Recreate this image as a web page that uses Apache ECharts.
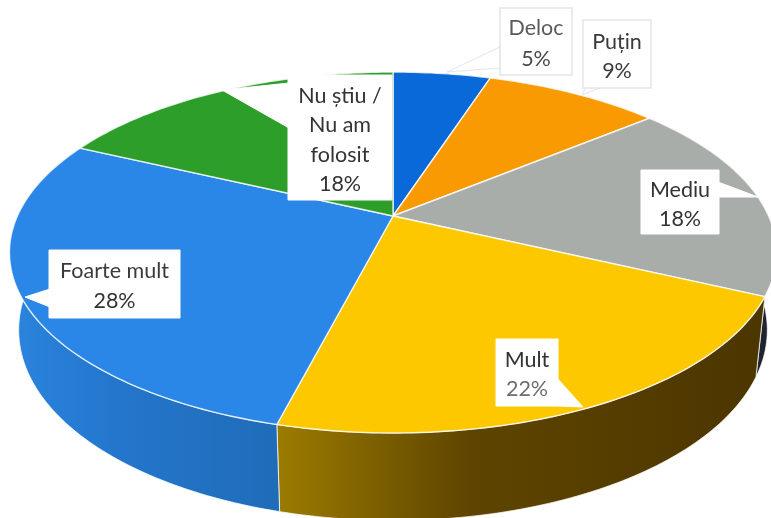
<!DOCTYPE html>
<html>
<head>
<meta charset="utf-8">
<style>
  html, body { margin: 0; padding: 0; background: #fff; }
  #chart { width: 771px; height: 518px; }
</style>
<script src="https://cdn.jsdelivr.net/npm/echarts@6/dist/echarts.min.js"></script>
</head>
<body>
<div id="chart"></div>
<script>
// values
const categories = ['Deloc', 'Puțin', 'Mediu', 'Mult', 'Foarte mult', 'Nu știu / Nu am folosit'];
const percents = [5, 9, 18, 22, 28, 18];
const labelLines = [['Deloc'], ['Puțin'], ['Mediu'], ['Mult'], ['Foarte mult'], ['Nu știu /', 'Nu am', 'folosit']];

const topColors = ['#0a69d8', '#f99a02', '#a9adaa', '#fec800', '#2a87e8', '#2d9e2a'];
const wallColors = [
  ['#0a4f9f', '#0a4f9f', '#0a4f9f'],
  ['#a86800', '#a86800', '#a86800'],
  ['#2c3448', '#20242f', '#20242f'],
  ['#9c7c00', '#5e4400', '#4c3600'],
  ['#2b84de', '#2476cc', '#1f6cb8'],
  ['#1f7020', '#1f7020', '#1f7020'],
];

// callout layout: box [x0, y0, x1, y1], pointer polygon, first text line y, line step
const callouts = [
  { box: [500, 8, 572, 75], ptr: [[447, 72], [500, 47], [500, 68]], y: 28, step: 31, border: '#e2e5e8', colors: ['#5a5a5a', '#4a4a4a'] },
  { box: [583, 20, 651, 88], ptr: [[582, 95], [586, 87], [602, 87]], y: 42, step: 29, border: '#e2e5e8', colors: ['#3a3a3a', '#3a3a3a'] },
  { box: [641, 170, 719, 234], ptr: [[758, 197], [718, 182], [718, 197]], y: 190, step: 29, colors: ['#333', '#333'] },
  { box: [496, 339, 558, 406], ptr: [[583, 407], [557, 378], [557, 406]], y: 360, step: 29, colors: ['#333', '#6e6e6e'] },
  { box: [49, 250, 180, 318], ptr: [[25, 297], [50, 289], [50, 307]], y: 271, step: 30, colors: ['#3a3a3a', '#333'] },
  { box: [288, 75, 392, 200], ptr: [[222, 90], [289, 83], [289, 128]], y: 96, step: 29.5, colors: ['#333', '#333', '#333', '#333'] },
];

// projective map from the pie's unit disc to the tilted picture
const apex = [393, 216];
const scaleX = 375.6, scaleY = 173.1, persp = 0.2023;
const wallShrink = 0.976;

function rimPoint(turn, bottom) {
  const a = turn * 2 * Math.PI;
  const u = Math.sin(a), v = Math.cos(a);
  const w = 1 + persp * v;
  const x = scaleX * u / w;
  const y = -scaleY * v / w;
  return bottom
    ? [apex[0] + x * wallShrink, apex[1] + y + 75 - 12.5 * v]
    : [apex[0] + x, apex[1] + y];
}

function sliceTurns(i) {
  const total = percents.reduce((s, p) => s + p, 0);
  const before = percents.slice(0, i).reduce((s, p) => s + p, 0);
  return [before / total, (before + percents[i]) / total];
}

function rimPoints(i, bottom) {
  const [from, to] = sliceTurns(i);
  const n = Math.ceil((to - from) * 360);
  const pts = [];
  for (let k = 0; k <= n; k++) pts.push(rimPoint(from + (to - from) * k / n, bottom));
  return pts;
}

function renderWall(params) {
  const i = params.dataIndex;
  const pts = rimPoints(i, false).concat(rimPoints(i, true).reverse());
  return {
    type: 'polygon',
    shape: { points: pts },
    style: {
      fill: { type: 'linear', x: 0, y: 0, x2: 1, y2: 0, colorStops: [
        { offset: 0, color: wallColors[i][0] },
        { offset: 0.4, color: wallColors[i][1] },
        { offset: 1, color: wallColors[i][2] },
      ] },
      stroke: 'rgba(255,255,255,0.75)',
      lineWidth: 1,
    },
  };
}

function renderTop(params) {
  const i = params.dataIndex;
  return {
    type: 'polygon',
    shape: { points: [apex].concat(rimPoints(i, false)) },
    style: { fill: topColors[i], stroke: 'rgba(255,255,255,0.8)', lineWidth: 1.4 },
  };
}

function renderCallout(params) {
  const i = params.dataIndex;
  const c = callouts[i];
  const [x0, y0, x1, y1] = c.box;
  const lines = labelLines[i].concat(percents[i] + '%');
  const children = [
    { type: 'polygon', shape: { points: c.ptr }, style: { fill: '#fff', stroke: c.border || '#fff', lineWidth: 1 } },
    { type: 'rect', shape: { x: x0, y: y0, width: x1 - x0, height: y1 - y0 }, style: { fill: '#fff', stroke: c.border || '#fff', lineWidth: c.border ? 1.5 : 1 } },
  ];
  lines.forEach((text, j) => {
    children.push({
      type: 'text',
      style: {
        text,
        x: (x0 + x1) / 2,
        y: c.y + j * c.step,
        fill: c.colors[j],
        font: '21.5px Lato, sans-serif',
        textAlign: 'center',
        textVerticalAlign: 'middle',
      },
    });
  });
  return { type: 'group', children };
}

const chart = echarts.init(document.getElementById('chart'), null, { renderer: 'canvas' });
const seriesData = percents.map((value, i) => ({ name: categories[i], value }));
const layer = (renderItem, z) => ({
  type: 'custom',
  coordinateSystem: 'none',
  renderItem,
  data: seriesData,
  z,
  silent: true,
  animation: false,
});

chart.setOption({
  animation: false,
  backgroundColor: '#fff',
  series: [layer(renderWall, 1), layer(renderTop, 2), layer(renderCallout, 3)],
});
</script>
</body>
</html>
